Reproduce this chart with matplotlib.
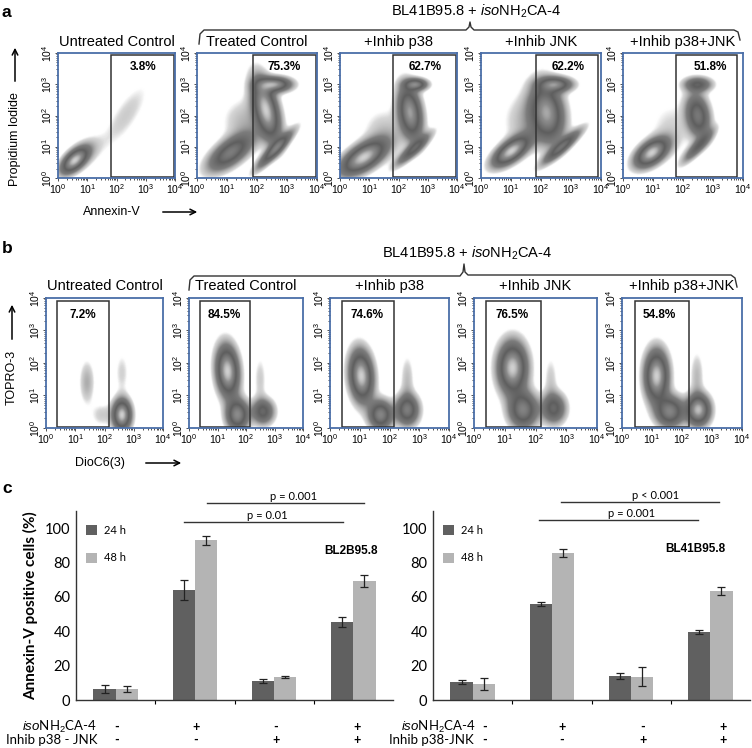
import numpy as np
import matplotlib
matplotlib.use("Agg")
import matplotlib.pyplot as plt
from matplotlib.colors import LinearSegmentedColormap
from matplotlib.patches import Rectangle

plt.rcParams['font.family'] = ['Liberation Sans', 'DejaVu Sans']
plt.rcParams['mathtext.fontset'] = 'custom'
plt.rcParams['mathtext.rm'] = 'Liberation Sans'
plt.rcParams['mathtext.it'] = 'Liberation Sans:italic'
plt.rcParams['mathtext.bf'] = 'Liberation Sans:bold'

W, H = 752, 748

# ---------------- data ----------------
flow_titles = ['Untreated Control', 'Treated Control', '+Inhib p38', '+Inhib JNK', '+Inhib p38+JNK']
pct_a = ['3.8%', '75.3%', '62.7%', '62.2%', '51.8%']
pct_b = ['7.2%', '84.5%', '74.6%', '76.5%', '54.8%']

# populations: (x decade, y decade, spread x, spread y, angle, weight)
pops_a = [
    [(0.55, 0.55, 0.35, 0.18, 40, 1.0), (0.9, 0.8, 0.45, 0.25, 40, 0.15), (2.3, 2.0, 0.9, 0.3, 55, 0.11)],
    [(1.1, 0.8, 0.55, 0.25, 35, 0.5), (2.3, 2.2, 0.25, 0.65, 15, 0.7), (2.6, 3.0, 0.35, 0.15, 0, 0.6),
     (2.6, 0.9, 0.55, 0.12, 45, 0.45), (1.6, 1.8, 0.5, 0.5, 0, 0.1)],
    [(0.8, 0.65, 0.55, 0.25, 30, 0.7), (2.4, 2.1, 0.25, 0.55, 10, 0.6), (2.6, 3.0, 0.25, 0.12, 0, 0.5),
     (2.5, 0.9, 0.5, 0.12, 40, 0.35), (1.5, 1.5, 0.5, 0.5, 0, 0.08)],
    [(1.0, 0.85, 0.45, 0.2, 35, 0.7), (2.2, 2.1, 0.35, 0.6, 10, 0.6), (2.5, 3.0, 0.35, 0.15, 0, 0.5),
     (2.7, 1.0, 0.55, 0.12, 40, 0.4), (1.5, 1.8, 0.5, 0.6, 0, 0.1)],
    [(0.95, 0.8, 0.4, 0.22, 35, 0.9), (2.5, 2.0, 0.25, 0.45, 10, 0.6), (2.5, 3.0, 0.3, 0.15, 0, 0.45),
     (2.5, 1.0, 0.45, 0.12, 45, 0.4), (1.6, 1.6, 0.5, 0.6, 0, 0.08)],
]
pops_b = [
    [(2.6, 0.4, 0.2, 0.3, 0, 1.0), (1.4, 1.4, 0.17, 0.45, 0, 0.16), (1.9, 0.4, 0.25, 0.25, 0, 0.1),
     (2.6, 1.7, 0.17, 0.45, 0, 0.09)],
    [(1.35, 1.75, 0.25, 0.5, 5, 0.9), (1.7, 0.4, 0.25, 0.3, 0, 0.7), (2.6, 0.5, 0.25, 0.25, 0, 0.5),
     (2.5, 1.5, 0.15, 0.5, 0, 0.09)],
    [(1.05, 1.6, 0.25, 0.5, 5, 0.8), (1.7, 0.4, 0.25, 0.28, 0, 0.6), (2.6, 0.55, 0.25, 0.3, 0, 0.55),
     (2.6, 1.5, 0.15, 0.5, 0, 0.1)],
    [(1.25, 1.85, 0.3, 0.5, 0, 0.9), (1.6, 0.55, 0.3, 0.35, 0, 0.65), (2.6, 0.6, 0.25, 0.3, 0, 0.5),
     (2.5, 1.5, 0.15, 0.5, 0, 0.09)],
    [(1.15, 1.6, 0.25, 0.5, 0, 0.75), (1.6, 0.5, 0.3, 0.3, 0, 0.55), (2.55, 0.55, 0.25, 0.3, 0, 0.7),
     (2.5, 1.6, 0.15, 0.5, 0, 0.1)],
]
gate_a_lo = [1.8, 1.87, 1.8, 1.83, 1.77]
gate_a_hi = [3.95, 3.97, 3.95, 3.9, 3.8]
gate_b_lo = [0.38, 0.38, 0.4, 0.4, 0.43]
gate_b_hi = [2.15, 2.15, 2.15, 2.18, 2.23]

groups = ['ctrl', 'iso', 'inhib', 'iso+inhib']
iso_sign = ['-', '+', '-', '+']
inhib_sign = ['-', '-', '+', '+']
bl2_24 = [6.5, 64, 11, 45.5]
bl2_24_err = [2.5, 6, 1.2, 3]
bl2_48 = [6.5, 93, 13.3, 69]
bl2_48_err = [1.8, 2.5, 0.5, 3.5]
bl41_24 = [10.5, 56, 14, 39.5]
bl41_24_err = [1, 1, 1.5, 1.3]
bl41_48 = [9.5, 85.5, 13.5, 63.5]
bl41_48_err = [3.5, 2.5, 5.5, 2.5]

ISO = r'$\mathit{iso}$NH$_2$CA-4'

# ---------------- helpers ----------------
flow_cmap = LinearSegmentedColormap.from_list('flow', [
    (0, 'white'), (0.05, 'white'), (0.08, '#d6d6d6'), (0.25, '#7c7c7c'),
    (0.5, '#5e5e5e'), (0.8, '#8c8c8c'), (1.0, '#d0d0d0')])


def density(pops):
    g = np.linspace(0, 4, 240)
    X, Y = np.meshgrid(g, g)
    D = np.zeros_like(X)
    for cx, cy, sx, sy, ang, w in pops:
        t = np.radians(ang)
        dx, dy = X - cx, Y - cy
        u = dx * np.cos(t) + dy * np.sin(t)
        v = -dx * np.sin(t) + dy * np.cos(t)
        D += w * np.exp(-0.5 * ((u / sx) ** 2 + (v / sy) ** 2))
    return D / D.max()


def px_axes(x0, x1, ytop, ybot):
    return fig.add_axes([x0 / W, 1 - ybot / H, (x1 - x0) / W, (ybot - ytop) / H])


def flow_panel(ax, pops, lo, hi, top, pct, pct_xy, title):
    ax.imshow(density(pops), extent=(0, 4, 0, 4), origin='lower', aspect='auto',
              cmap=flow_cmap, vmin=0, vmax=1, interpolation='bilinear')
    ax.add_patch(Rectangle((lo, 0.02), hi - lo, top - 0.02, fill=False, ec='#333333', lw=1.1))
    ax.text(pct_xy[0], pct_xy[1], pct, ha='center', va='center', fontsize=8.5, fontweight='bold')
    ax.text(0.5, 1.035, title, transform=ax.transAxes, ha='center', va='bottom', fontsize=10.5)
    ax.set_xlim(0, 4)
    ax.set_ylim(0, 4)
    for s in ax.spines.values():
        s.set_color('#4a6ea8')
        s.set_linewidth(1.3)
    ticks = [0, 1, 2, 3, 4]
    labels = [r'$\mathregular{10^{%d}}$' % t for t in ticks]
    minor = [k + np.log10(m) for k in range(4) for m in range(2, 10)]
    ax.set_xticks(ticks)
    ax.set_xticklabels(labels, fontsize=7.5)
    ax.set_yticks(ticks)
    ax.set_yticklabels(labels, fontsize=7.5, rotation=90, va='center')
    ax.set_xticks(minor, minor=True)
    ax.set_yticks(minor, minor=True)
    ax.tick_params(which='both', direction='out', length=2, width=0.6, pad=1, color='#333333')
    ax.tick_params(which='minor', length=1.5)


fig = plt.figure(figsize=(W / 100, H / 100), dpi=100)

ov = fig.add_axes([0, 0, 1, 1], zorder=10)
ov.set_xlim(0, W)
ov.set_ylim(H, 0)
ov.axis('off')

# ---------------- panel a ----------------
xa = [(58, 175), (197, 317), (340, 457), (481, 601), (623, 743)]
for i, (x0, x1) in enumerate(xa):
    ax = px_axes(x0, x1, 53, 178)
    flow_panel(ax, pops_a[i], gate_a_lo[i], gate_a_hi[i], 3.95, pct_a[i], (2.9, 3.55), flow_titles[i])

# ---------------- panel b ----------------
xb = [(46, 163), (189, 303), (330, 449), (474, 597), (622, 742)]
for i, (x0, x1) in enumerate(xb):
    ax = px_axes(x0, x1, 298, 428)
    flow_panel(ax, pops_b[i], gate_b_lo[i], gate_b_hi[i], 3.92, pct_b[i], (1.25, 3.48), flow_titles[i])

# panel letters
for lab, yy in [('a', 12), ('b', 248), ('c', 488)]:
    ov.text(2, yy, lab, fontsize=12.5, fontweight='bold', va='center', ha='left')

# brackets
ov.plot([199, 200, 204, 466, 469, 470, 471, 474, 734, 738, 740],
        [44, 34, 30, 30, 27, 22, 27, 30, 30, 32, 40], color='#333333', lw=1.0)
ov.plot([189, 190, 194, 460, 463, 464, 465, 468, 731, 735, 737],
        [290, 280, 276, 276, 272, 264, 272, 275, 275, 278, 287], color='#333333', lw=1.0)
ov.text(476, 11, 'BL41B95.8 + ' + ISO, ha='center', va='center', fontsize=10.5)
ov.text(467, 253, 'BL41B95.8 + ' + ISO, ha='center', va='center', fontsize=10.5)

# axis names with arrows
ov.text(15, 139, 'Propidium Iodide', rotation=90, ha='center', va='center', fontsize=9)
ov.annotate('', xy=(15, 45), xytext=(15, 84), arrowprops=dict(arrowstyle='->', lw=1.1))
ov.text(112, 212, 'Annexin-V', ha='center', va='center', fontsize=9)
ov.annotate('', xy=(200, 212), xytext=(160, 212), arrowprops=dict(arrowstyle='->', lw=1.1))
ov.text(12, 377, 'TOPRO-3', rotation=90, ha='center', va='center', fontsize=9)
ov.annotate('', xy=(12, 302), xytext=(12, 342), arrowprops=dict(arrowstyle='->', lw=1.1))
ov.text(100, 463, 'DioC6(3)', ha='center', va='center', fontsize=9)
ov.annotate('', xy=(184, 463), xytext=(143, 463), arrowprops=dict(arrowstyle='->', lw=1.1))

# ---------------- panel c ----------------
cfont = ['Lato', 'DejaVu Sans']
dark, light = '#606060', '#b4b4b4'
x = np.arange(len(groups))
bw = 0.28


def bar_panel(ax, v24, e24, v48, e48, name, name_xy, sig, ylab):
    ax.bar(x - bw / 2, v24, bw, color=dark, label='24 h')
    ax.bar(x + bw / 2, v48, bw, color=light, label='48 h')
    ek = dict(fmt='none', ecolor='#222222', elinewidth=0.9, capsize=3, capthick=0.9)
    ax.errorbar(x - bw / 2, v24, yerr=e24, **ek)
    ax.errorbar(x + bw / 2, v48, yerr=e48, **ek)
    ax.set_xlim(-0.5, 3.5)
    ax.set_ylim(0, 110)
    ax.spines[['top', 'right']].set_visible(False)
    for s in ['left', 'bottom']:
        ax.spines[s].set_linewidth(1.0)
        ax.spines[s].set_color('#333333')
    ax.set_xticks([0.5, 1.5, 2.5])
    ax.set_xticklabels([])
    ax.tick_params(axis='x', length=3, width=0.8)
    ax.set_yticks([0, 20, 40, 60, 80, 100])
    ax.tick_params(axis='y', length=0, labelsize=10.5, pad=4)
    for t in ax.get_yticklabels():
        t.set_family(cfont)
    ax.text(name_xy[0], name_xy[1], name, ha='center', va='center', fontsize=8.5, fontweight='bold')
    for x0, x1, yy, lab, tx in sig:
        ax.plot([x0, x1], [yy, yy], color='#333333', lw=1.0, clip_on=False)
        ax.text(tx, yy + 0.8, lab, ha='center', va='bottom', fontsize=8, family=cfont)
    ax.legend(loc='upper left', bbox_to_anchor=(0.0, 0.98), frameon=False, handlelength=1.0,
              handleheight=1.0, labelspacing=1.5, handletextpad=0.6, prop={'family': cfont, 'size': 8})
    if ylab:
        ax.set_ylabel('Annexin-V positive cells (%)', fontsize=11, fontweight='bold', family=cfont, labelpad=5)


axl = px_axes(76, 393, 511, 700)
bar_panel(axl, bl2_24, bl2_24_err, bl2_48, bl2_48_err, 'BL2B95.8', (2.97, 87),
          [(0.86, 2.87, 103.5, 'p = 0.01', 1.92), (1.15, 3.13, 114.5, 'p = 0.001', 2.24)], True)
axr = px_axes(433, 750, 511, 700)
bar_panel(axr, bl41_24, bl41_24_err, bl41_48, bl41_48_err, 'BL41B95.8', (2.81, 88),
          [(0.84, 2.84, 104.7, 'p = 0.001', 2.0), (1.12, 3.11, 115, 'p < 0.001', 2.31)], False)

# condition rows under the bars
sign_x_left = [117, 196, 276, 357]
sign_x_right = [485, 562, 643, 723]
for sx, a, b in zip(sign_x_left + sign_x_right, iso_sign * 2, inhib_sign * 2):
    ov.text(sx, 727, a, ha='center', va='center', fontsize=9, fontweight='bold', family=cfont)
    ov.text(sx, 740, b, ha='center', va='center', fontsize=9, fontweight='bold', family=cfont)
ov.text(97, 727, ISO, ha='right', va='center', fontsize=9.5, family=cfont)
ov.text(97, 740, 'Inhib p38 - JNK', ha='right', va='center', fontsize=9.5, family=cfont)
ov.text(476, 727, ISO, ha='right', va='center', fontsize=9.5, family=cfont)
ov.text(474, 740, 'Inhib p38-JNK', ha='right', va='center', fontsize=9.5, family=cfont)

fig.savefig('out.png', dpi=100)
